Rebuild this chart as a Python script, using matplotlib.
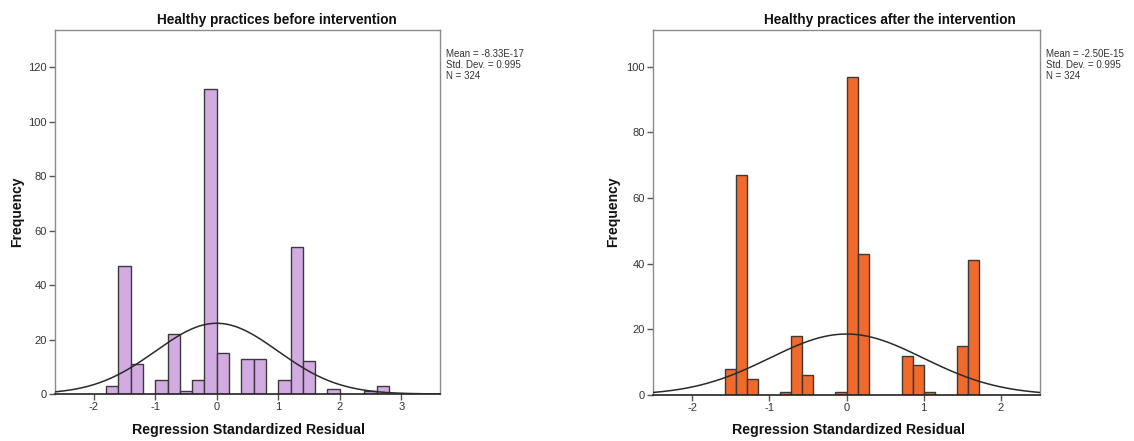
import numpy as np
import matplotlib
matplotlib.use("Agg")
import matplotlib.pyplot as plt

# ---- data ----
before_width = 0.2
before_start = -1.8
before_counts = [3, 47, 11, 0, 5, 22, 1, 5, 112, 15, 0, 13, 13, 0, 5, 54, 12, 0, 2, 0, 0, 1, 3]
before_mean = -8.33e-17
before_sd = 0.995
before_n = 324

after_width = 0.143
after_start = -11 * 0.143
after_counts = [8, 67, 5, 0, 0, 1, 18, 6, 0, 0, 1, 97, 43, 0, 0, 0, 12, 9, 1, 0, 0, 15, 41]
after_mean = -2.50e-15
after_sd = 0.995
after_n = 324

titles = ["Healthy practices before intervention", "Healthy practices after the intervention"]
stats_text = ["Mean = -8.33E-17\nStd. Dev. = 0.995\nN = 324",
              "Mean = -2.50E-15\nStd. Dev. = 0.995\nN = 324"]
x_ticks = [[-2, -1, 0, 1, 2, 3], [-2, -1, 0, 1, 2]]
y_ticks = [[0, 20, 40, 60, 80, 100, 120], [0, 20, 40, 60, 80, 100]]

plt.rcParams['font.family'] = ['Liberation Sans', 'DejaVu Sans']

fig = plt.figure(figsize=(11.34, 4.41), dpi=100)
W, H = 1134, 441

def ax_rect(x0, x1, ytop, ybot):
    return [x0 / W, 1 - ybot / H, (x1 - x0) / W, (ybot - ytop) / H]

panels = [
    dict(rect=ax_rect(55, 440, 30, 394), counts=before_counts, start=before_start, width=before_width,
         mean=before_mean, sd=before_sd, n=before_n, color='#D2ABE2', xlim=(-2.63, 3.63), ylim=(0, 133.7),
         title_x=277, stats_x=446, flab_x=17, xlab_x=249),
    dict(rect=ax_rect(653, 1040, 30, 395), counts=after_counts, start=after_start, width=after_width,
         mean=after_mean, sd=after_sd, n=after_n, color='#F2692C', xlim=(-2.51, 2.51), ylim=(0, 111.2),
         title_x=890, stats_x=1046, flab_x=613, xlab_x=848),
]

for i, p in enumerate(panels):
    ax = fig.add_axes(p['rect'])
    counts = np.array(p['counts'])
    lefts = p['start'] + p['width'] * np.arange(len(counts))
    mask = counts > 0
    ax.bar(lefts[mask], counts[mask], width=p['width'], align='edge', color=p['color'],
           edgecolor='#3a3a3a', linewidth=1.0, zorder=2)
    xs = np.linspace(p['xlim'][0], p['xlim'][1], 400)
    ys = p['n'] * p['width'] * np.exp(-0.5 * ((xs - p['mean']) / p['sd']) ** 2) / (p['sd'] * np.sqrt(2 * np.pi))
    ax.plot(xs, ys, color='#2a2a2a', linewidth=1.1, zorder=3)
    ax.set_xlim(*p['xlim'])
    ax.set_ylim(*p['ylim'])
    ax.set_xticks(x_ticks[i])
    ax.set_xticklabels([str(t) for t in x_ticks[i]])
    ax.set_yticks(y_ticks[i])
    ax.tick_params(axis='both', direction='out', length=4, width=1, color='#555555',
                   labelsize=8, labelcolor='#333333', pad=2)
    for s in ['top', 'right', 'left']:
        ax.spines[s].set_color('#8a8a8a')
        ax.spines[s].set_linewidth(1.0)
    ax.spines['bottom'].set_color('#222222')
    ax.spines['bottom'].set_linewidth(1.2)
    fig.text(p['title_x'] / W, 1 - 20 / H, titles[i], ha='center', va='center',
             fontsize=9.8, fontweight='bold', color='#111111')
    fig.text(p['stats_x'] / W, 1 - 49 / H, stats_text[i], ha='left', va='top',
             fontsize=7, color='#333333', linespacing=1.1)
    fig.text(p['flab_x'] / W, 1 - 212 / H, 'Frequency', rotation=90, ha='center', va='center',
             fontsize=10, fontweight='bold', color='#111111')
    fig.text(p['xlab_x'] / W, 1 - 430 / H, 'Regression Standardized Residual', ha='center', va='center',
             fontsize=10.2, fontweight='bold', color='#111111')

fig.savefig('out.png', dpi=100, facecolor='white')
